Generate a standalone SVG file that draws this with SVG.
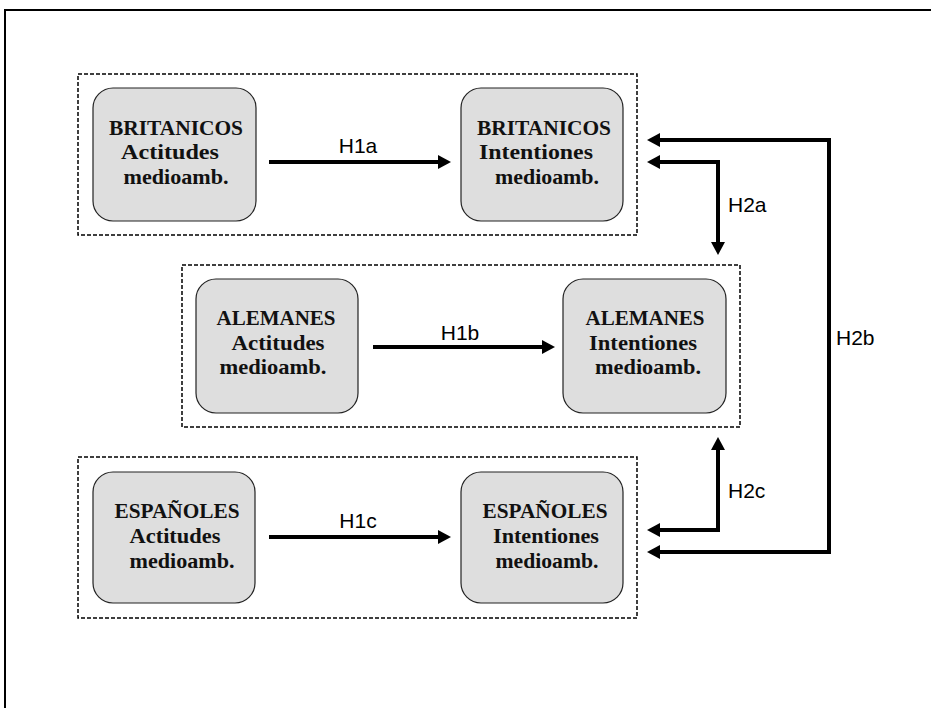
<svg xmlns="http://www.w3.org/2000/svg" width="931" height="708" viewBox="0 0 931 708">
<style>
.frame{fill:none;stroke:#000;stroke-width:2}
.grp{fill:none;stroke:#000;stroke-width:1.5;stroke-dasharray:4 2}
.node{fill:#dedede;stroke:#222;stroke-width:1.2}
.nt{font-family:"Liberation Serif",serif;font-weight:bold;font-size:21px;fill:#111;text-anchor:middle}
.conn{fill:none;stroke:#000;stroke-width:4}
.lbl{font-family:"Liberation Sans",Arial,sans-serif;font-size:21px;fill:#000}
</style>
<defs>
<marker id="ah" markerUnits="userSpaceOnUse" markerWidth="13" markerHeight="14" refX="2" refY="7" orient="auto-start-reverse" viewBox="0 0 13 14">
<path d="M0,0 L13,7 L0,14 z" fill="#000"/>
</marker>
</defs>
<path class="frame" d="M5,708 V10 H931"/>
<g id="group-britanicos"><rect class="grp" x="78" y="74" width="559" height="161"/></g>
<g id="group-alemanes"><rect class="grp" x="182" y="265" width="558" height="162"/></g>
<g id="group-espanoles"><rect class="grp" x="78" y="457" width="559" height="161"/></g>

<g id="brit-act"><rect class="node" x="93" y="88" width="163" height="133" rx="20"/>
<text class="nt" x="176" y="135" textLength="134" lengthAdjust="spacingAndGlyphs">BRITANICOS</text><text class="nt" x="170" y="159" textLength="98" lengthAdjust="spacingAndGlyphs">Actitudes</text><text class="nt" x="176" y="184" textLength="105" lengthAdjust="spacingAndGlyphs">medioamb.</text></g>
<g id="brit-int"><rect class="node" x="461" y="88" width="162" height="133" rx="20"/>
<text class="nt" x="544" y="135" textLength="134" lengthAdjust="spacingAndGlyphs">BRITANICOS</text><text class="nt" x="536" y="159" textLength="114" lengthAdjust="spacingAndGlyphs">Intentiones</text><text class="nt" x="547" y="184" textLength="104" lengthAdjust="spacingAndGlyphs">medioamb.</text></g>

<g id="alem-act"><rect class="node" x="196" y="279" width="162" height="134" rx="20"/>
<text class="nt" x="276" y="325" textLength="119" lengthAdjust="spacingAndGlyphs">ALEMANES</text><text class="nt" x="278" y="350" textLength="93" lengthAdjust="spacingAndGlyphs">Actitudes</text><text class="nt" x="273" y="374" textLength="107" lengthAdjust="spacingAndGlyphs">medioamb.</text></g>
<g id="alem-int"><rect class="node" x="563" y="279" width="163" height="134" rx="20"/>
<text class="nt" x="645" y="325" textLength="119" lengthAdjust="spacingAndGlyphs">ALEMANES</text><text class="nt" x="643" y="350" textLength="108" lengthAdjust="spacingAndGlyphs">Intentiones</text><text class="nt" x="648" y="374" textLength="106" lengthAdjust="spacingAndGlyphs">medioamb.</text></g>

<g id="esp-act"><rect class="node" x="93" y="472" width="162" height="131" rx="20"/>
<text class="nt" x="177" y="518" textLength="125" lengthAdjust="spacingAndGlyphs">ESPAÑOLES</text><text class="nt" x="175" y="543" textLength="91" lengthAdjust="spacingAndGlyphs">Actitudes</text><text class="nt" x="182" y="568" textLength="105" lengthAdjust="spacingAndGlyphs">medioamb.</text></g>
<g id="esp-int"><rect class="node" x="461" y="472" width="162" height="131" rx="20"/>
<text class="nt" x="545" y="518" textLength="125" lengthAdjust="spacingAndGlyphs">ESPAÑOLES</text><text class="nt" x="546" y="543" textLength="106" lengthAdjust="spacingAndGlyphs">Intentiones</text><text class="nt" x="547" y="568" textLength="103" lengthAdjust="spacingAndGlyphs">medioamb.</text></g>

<g id="connectors">
<path class="conn" d="M269,162 H440" marker-end="url(#ah)"/>
<path class="conn" d="M373,347 H544" marker-end="url(#ah)"/>
<path class="conn" d="M269,537 H440" marker-end="url(#ah)"/>
<path class="conn" d="M658,162 H718 V244" marker-start="url(#ah)" marker-end="url(#ah)"/>
<path class="conn" d="M658,140 H829 V552 H658" marker-start="url(#ah)" marker-end="url(#ah)"/>
<path class="conn" d="M658,530 H718 V448" marker-start="url(#ah)" marker-end="url(#ah)"/>
<text class="lbl" x="358" y="153" text-anchor="middle">H1a</text>
<text class="lbl" x="460" y="340" text-anchor="middle">H1b</text>
<text class="lbl" x="358" y="528" text-anchor="middle">H1c</text>
<text class="lbl" x="728" y="212">H2a</text>
<text class="lbl" x="836" y="345">H2b</text>
<text class="lbl" x="728" y="498">H2c</text>
</g>
</svg>
